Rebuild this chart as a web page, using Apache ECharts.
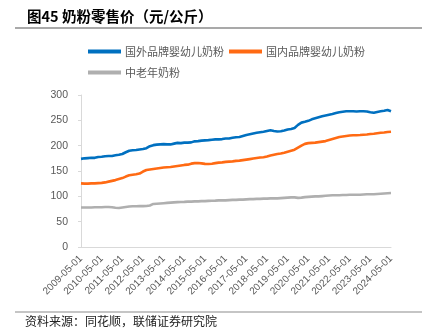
<!DOCTYPE html>
<html><head><meta charset="utf-8">
<script src="https://cdn.jsdelivr.net/npm/echarts@6/dist/echarts.min.js"></script>
<style>html,body{margin:0;padding:0;background:#fff}#c{width:430px;height:336px}</style>
</head><body><div id="c"></div>
<script>
const categories = [
'2009-05-01','2009-06-01','2009-07-01','2009-08-01','2009-09-01','2009-10-01','2009-11-01','2009-12-01','2010-01-01','2010-02-01','2010-03-01','2010-04-01',
'2010-05-01','2010-06-01','2010-07-01','2010-08-01','2010-09-01','2010-10-01','2010-11-01','2010-12-01','2011-01-01','2011-02-01','2011-03-01','2011-04-01',
'2011-05-01','2011-06-01','2011-07-01','2011-08-01','2011-09-01','2011-10-01','2011-11-01','2011-12-01','2012-01-01','2012-02-01','2012-03-01','2012-04-01',
'2012-05-01','2012-06-01','2012-07-01','2012-08-01','2012-09-01','2012-10-01','2012-11-01','2012-12-01','2013-01-01','2013-02-01','2013-03-01','2013-04-01',
'2013-05-01','2013-06-01','2013-07-01','2013-08-01','2013-09-01','2013-10-01','2013-11-01','2013-12-01','2014-01-01','2014-02-01','2014-03-01','2014-04-01',
'2014-05-01','2014-06-01','2014-07-01','2014-08-01','2014-09-01','2014-10-01','2014-11-01','2014-12-01','2015-01-01','2015-02-01','2015-03-01','2015-04-01',
'2015-05-01','2015-06-01','2015-07-01','2015-08-01','2015-09-01','2015-10-01','2015-11-01','2015-12-01','2016-01-01','2016-02-01','2016-03-01','2016-04-01',
'2016-05-01','2016-06-01','2016-07-01','2016-08-01','2016-09-01','2016-10-01','2016-11-01','2016-12-01','2017-01-01','2017-02-01','2017-03-01','2017-04-01',
'2017-05-01','2017-06-01','2017-07-01','2017-08-01','2017-09-01','2017-10-01','2017-11-01','2017-12-01','2018-01-01','2018-02-01','2018-03-01','2018-04-01',
'2018-05-01','2018-06-01','2018-07-01','2018-08-01','2018-09-01','2018-10-01','2018-11-01','2018-12-01','2019-01-01','2019-02-01','2019-03-01','2019-04-01',
'2019-05-01','2019-06-01','2019-07-01','2019-08-01','2019-09-01','2019-10-01','2019-11-01','2019-12-01','2020-01-01','2020-02-01','2020-03-01','2020-04-01',
'2020-05-01','2020-06-01','2020-07-01','2020-08-01','2020-09-01','2020-10-01','2020-11-01','2020-12-01','2021-01-01','2021-02-01','2021-03-01','2021-04-01',
'2021-05-01','2021-06-01','2021-07-01','2021-08-01','2021-09-01','2021-10-01','2021-11-01','2021-12-01','2022-01-01','2022-02-01','2022-03-01','2022-04-01',
'2022-05-01','2022-06-01','2022-07-01','2022-08-01','2022-09-01','2022-10-01','2022-11-01','2022-12-01','2023-01-01','2023-02-01','2023-03-01','2023-04-01',
'2023-05-01','2023-06-01','2023-07-01','2023-08-01','2023-09-01','2023-10-01','2023-11-01','2023-12-01','2024-01-01','2024-02-01','2024-03-01','2024-04-01',
'2024-05-01'
];
const foreignInfant = [
174,174.5,175,175,175.5,175,176,176.5,176,177,177.5,177,
178,178.5,179,179,179.5,180,179.5,180,181,181.5,182,183,
183.5,185,187,189,190,190.5,191,191,191.5,192,192.5,193,
193.5,194,195,197,199,200.5,201,201.5,202,202,202.5,202.5,
203,202.5,202.5,202,202.5,203,204,205,205.5,205,205,206,
206,206.5,206,206,206.5,207.5,208.5,209,209,209.5,210,210,
210.5,211,211,211.5,211.8,212,212.5,212,212.5,213,213,213.5,
214,214.5,214,215,215.5,216,216.5,216.5,217,218,219,220,
221,222,222.5,223,224,225,225.5,226,226.5,227,227.5,228,
229,230,230.5,230,229,228,228,228,228.5,229,230,231,
232,232.5,233,234,235,238,241,244,245.5,246.5,247,248,
249,250,252,253,254,255,256,257,258,258.5,259.5,260.5,
261,262,262.5,263.5,264.5,265.5,266,266.5,267,267.5,268,267.5,
268,268.5,268,268,267.5,268,268,267.5,268,268,267.5,267,
266,265.5,265,265.5,266.5,267,268,268.5,269,270,270.5,271,268
];
const domesticInfant = [
125.5,125,125,125,125,125,125.5,125.5,125.5,126,126,126,
126.5,127,127.5,128,129,130,130.5,131,132,133,134,135,
136,137,139,140.5,141.5,142,142.5,143,143.5,144,145,147,
149,150.5,152,152.5,153,153.5,154,154.5,155,155.5,156,156.5,
157,157,157.5,158,158,158.5,159,159.5,160,160.5,161,161.5,
162,162,162.5,163.5,164.5,165,165.5,165.5,165.7,165.5,165,164.5,
164,163.8,163.7,164,164.4,165,165.5,166,166.5,167,167,167.5,
168,168,168.5,168.5,169,169.5,170,170,170.5,171,171.5,172,
172.5,173,173.5,174,174.5,175,175.5,176,176.5,177,177.3,177.6,
178.5,179.5,180.5,181.5,182,183,183.5,184,184.5,185,186,187,
188,189,190,190.7,192,194,196,198,200,202,203.5,204.5,
205,205,205.5,205.5,206,206.5,207,207.5,208,208.4,209,210,
211,212,213,214,215,216,217,217.5,218,218.5,219,219.5,
220,220.3,220.5,220.5,220.7,221,221,221.5,221.5,222,222,222.5,
223,223,223.5,224,224.5,225,225.5,226,226,226.5,227,227,227.5
];
const elderly = [
78,78,78,78,78,78,78,78,78.5,78.5,78.5,78.5,
78.5,78.5,79,79,79,78.8,78.5,78,77.5,77,77,77.5,
78,78.5,79,79.5,80,80.4,80.5,80.5,80.5,80.5,80.6,80.6,
80.6,80.8,81,81,82,83.5,85,85.5,85.5,86,86,86.5,
86.5,87,87,87.5,87.5,88,88,88.5,88.5,88.8,88.8,89,
89,89,89.5,89.5,89.5,90,90,90,90,90,90.5,90.5,
90.5,91,91,91,91.4,91.5,91.5,91.5,92,92,92,92,
92,92.5,92.5,92.5,93,93,93,93,93.5,93.5,93.5,94,
94,94,94.5,94.5,94.5,95,95,95,95,95.5,95.5,95.5,
95.5,95.5,96,96,96,96,96,96,96.5,96.5,97,97,
97.5,98,98,98,98,97.5,97,97,97.5,98,98.5,99,
99,99.5,99.5,100,100,100,100,100.5,100.5,101,101,101.5,
101.5,101.5,102,102,102,102,102,102,102.5,102.5,102.5,103,
103,103,103,103,103,103,103,103.5,103.5,103.5,104,104,
104,104,104,104.5,104.5,104.5,105,105,105.5,105.5,106,106,106.5
];
const seriesNames = ['国外品牌婴幼儿奶粉','国内品牌婴幼儿奶粉','中老年奶粉'];
const yTicks = {min: 0, max: 300, interval: 50};
const titleText = '图45 奶粉零售价（元/公斤）';
const sourceText = '资料来源：同花顺，联储证券研究院';

const colors = ['#0070C0', '#FF6A13', '#AFAFAF'];
const cjk = '"Noto Sans CJK SC", sans-serif';
const chart = echarts.init(document.getElementById('c'), null, {renderer: 'canvas'});
const legendCommon = {
  icon: 'rect', itemWidth: 33, itemHeight: 4, itemGap: 5,
  textStyle: {fontFamily: cjk, fontSize: 11, color: '#595959', padding: [0,0,0,-1]},
  selectedMode: false
};
chart.setOption({
  animation: false,
  color: colors,
  title: {
    text: titleText, left: 22, top: 4,
    textStyle: {fontFamily: cjk, fontSize: 14.5, fontWeight: 'bold', color: '#000'}
  },
  legend: [
    Object.assign({data: [seriesNames[0], seriesNames[1]], left: 83, top: 41}, legendCommon),
    Object.assign({data: [seriesNames[2]], left: 83, top: 62}, legendCommon)
  ],
  grid: {left: 81, right: 39, top: 95, bottom: 89, containLabel: false},
  xAxis: {
    type: 'category', data: categories, boundaryGap: false,
    axisLine: {lineStyle: {color: '#D9D9D9', width: 1}},
    axisTick: {show: false},
    axisLabel: {interval: 11, rotate: 45, margin: 10, fontFamily: 'Liberation Sans, Arial', fontSize: 10, color: '#595959'}
  },
  yAxis: {
    type: 'value', min: yTicks.min, max: yTicks.max, interval: yTicks.interval,
    axisLine: {show: true, lineStyle: {color: '#D9D9D9', width: 1}},
    axisTick: {show: true, length: 3, lineStyle: {color: '#D9D9D9'}},
    splitLine: {show: false},
    axisLabel: {margin: 13, fontFamily: 'Liberation Sans, Arial', fontSize: 10.5, color: '#595959'}
  },
  series: [
    {name: seriesNames[0], type: 'line', data: foreignInfant, symbol: 'none', lineStyle: {width: 2.6, color: colors[0]}},
    {name: seriesNames[1], type: 'line', data: domesticInfant, symbol: 'none', lineStyle: {width: 2.6, color: colors[1]}},
    {name: seriesNames[2], type: 'line', data: elderly, symbol: 'none', lineStyle: {width: 2.6, color: colors[2]}}
  ],
  graphic: [
    {type: 'line', shape: {x1: 15, y1: 28, x2: 422, y2: 28}, style: {stroke: '#8C8C8C', lineWidth: 1.5}},
    {type: 'line', shape: {x1: 15, y1: 312, x2: 422, y2: 312}, style: {stroke: '#8C8C8C', lineWidth: 1.2}},
    {type: 'text', left: 25, top: 315, style: {text: sourceText, font: '12px "Noto Sans CJK SC", sans-serif', fill: '#222'}}
  ]
});
</script>
</body></html>
